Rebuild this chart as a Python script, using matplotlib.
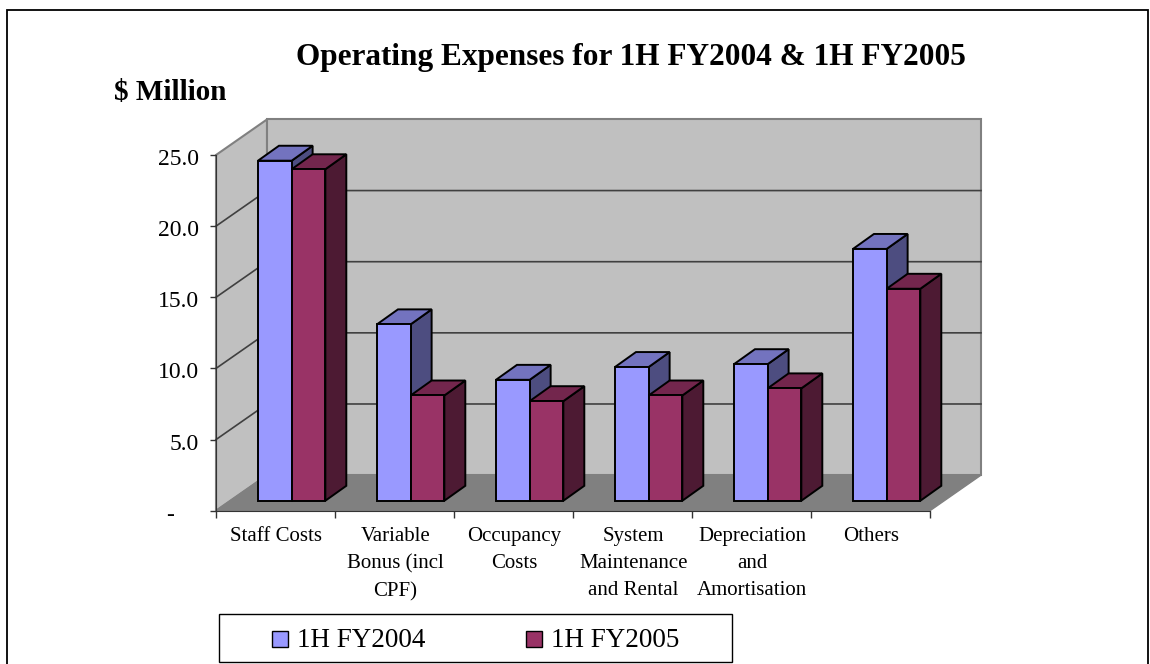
import matplotlib
matplotlib.use("Agg")
import matplotlib.pyplot as plt
from matplotlib.patches import Rectangle, Polygon
from matplotlib.transforms import ScaledTranslation

plt.rcParams['font.family'] = ['Liberation Serif', 'DejaVu Serif']

categories = [
    "Staff Costs",
    "Variable\nBonus (incl\nCPF)",
    "Occupancy\nCosts",
    "System\nMaintenance\nand Rental",
    "Depreciation\nand\nAmortisation",
    "Others",
]
fy2004 = [23.9, 12.4, 8.5, 9.4, 9.6, 17.7]
fy2005 = [23.3, 7.4, 7.0, 7.4, 7.9, 14.9]
y_ticks = [0, 5, 10, 15, 20, 25]
y_tick_labels = ["-", "5.0", "10.0", "15.0", "20.0", "25.0"]

W, H = 1150, 664
# depth of the box and of the bars, in data units
BOX_DX, BOX_DY = 0.4286, 2.5
BASE_DX, BASE_DY = 0.12, 0.70
BAR_DX, BAR_DY = 0.176, 1.05
BAR_W = 0.283
BAR_GAP = 0.233


def px_rect(left, top, right, bottom):
    return [left / W, 1 - bottom / H, (right - left) / W, (bottom - top) / H]


def bar3d(ax, x, value, face, top, side):
    x0 = x + BASE_DX
    x1 = x0 + BAR_W
    y0 = BASE_DY
    y1 = BASE_DY + value
    ax.add_patch(Polygon([(x1, y0), (x1 + BAR_DX, y0 + BAR_DY), (x1 + BAR_DX, y1 + BAR_DY), (x1, y1)],
                         fc=side, ec="black", lw=1.4, clip_on=False))
    ax.add_patch(Polygon([(x0, y1), (x0 + BAR_DX, y1 + BAR_DY), (x1 + BAR_DX, y1 + BAR_DY), (x1, y1)],
                         fc=top, ec="black", lw=1.4, clip_on=False))
    ax.add_patch(Rectangle((x0, y0), BAR_W, value, fc=face, ec="black", lw=1.4, clip_on=False))


fig = plt.figure(figsize=(W / 100, H / 100), dpi=100)
# outer frame runs off the bottom of the picture
fig.patches.append(Rectangle((6.5 / W, -0.02), 1141.5 / W, 1 - 10 / H + 0.02, transform=fig.transFigure,
                             fc="white", ec="black", lw=1.3, zorder=-2))

ax = fig.add_axes(px_rect(216, 155, 930, 510.7))
n = len(categories)
ax.set_xlim(0, n)
ax.set_ylim(0, 25)
ax.patch.set_visible(False)
for name in ["top", "right"]:
    ax.spines[name].set_visible(False)

# walls and floor
ax.add_patch(Polygon([(0, 0), (BOX_DX, BOX_DY), (BOX_DX, 25 + BOX_DY), (0, 25)],
                     fc="#C0C0C0", ec="#808080", lw=1.5, clip_on=False, zorder=0))
ax.add_patch(Rectangle((BOX_DX, BOX_DY), n, 25, fc="#C0C0C0", ec="#808080", lw=1.5, clip_on=False, zorder=0))
ax.add_patch(Polygon([(0, 0), (n, 0), (n + BOX_DX, BOX_DY), (BOX_DX, BOX_DY)],
                     fc="#808080", ec="#808080", lw=1, clip_on=False, zorder=0))
for t in y_ticks[1:-1]:
    ax.plot([0, BOX_DX, n + BOX_DX], [t, t + BOX_DY, t + BOX_DY], color="#404040", lw=1.2,
            clip_on=False, zorder=0.5)

for i in range(n):
    bar3d(ax, i + BAR_GAP, fy2004[i], "#9999FF", "#7373BF", "#4D4D80")
    bar3d(ax, i + BAR_GAP + BAR_W, fy2005[i], "#993366", "#73264D", "#4D1A33")

ax.set_yticks(y_ticks)
ax.set_yticklabels(y_tick_labels, fontsize=17)
ax.set_xticks(range(n + 1))
ax.set_xticklabels([])
ax.tick_params(axis="both", length=4.5, width=1, color="#333333", pad=8)
ax.tick_params(axis="x", length=5)
for name in ["left", "bottom"]:
    ax.spines[name].set_color("#333333")

# labels sit a little below their ticks, and the "-" for zero further left than the numbers
for k, lab in enumerate(ax.get_yticklabels()):
    shift_x = -0.245 if k == 0 else 0
    lab.set_transform(lab.get_transform() + ScaledTranslation(shift_x, -0.02, fig.dpi_scale_trans))

for i, label in enumerate(categories):
    ax.annotate(label, xy=(i + 0.5, 0), xytext=(0.5, -12), textcoords="offset points",
                ha="center", va="top", fontsize=15, linespacing=1.57, annotation_clip=False)

fig.text(631 / W, 1 - 57 / H, "Operating Expenses for 1H FY2004 & 1H FY2005", ha="center", va="center",
         fontsize=22.5, fontweight="bold")
fig.text(114 / W, 1 - 92 / H, "$ Million", ha="left", va="center", fontsize=21, fontweight="bold",
         parse_math=False)

# legend box
fig.patches.append(Rectangle((219 / W, 1 - 662 / H), 513 / W, 48 / H, transform=fig.transFigure,
                             fc="white", ec="black", lw=1))
for sx, color, label in [(272, "#9999FF", "1H FY2004"), (526, "#993366", "1H FY2005")]:
    fig.patches.append(Rectangle((sx / W, 1 - 647 / H), 16 / W, 16 / H, transform=fig.transFigure,
                                 fc=color, ec="black", lw=1))
    fig.text((sx + 25) / W, 1 - 640.5 / H, label, ha="left", va="center", fontsize=19.5)

fig.savefig("out.png", dpi=100)
